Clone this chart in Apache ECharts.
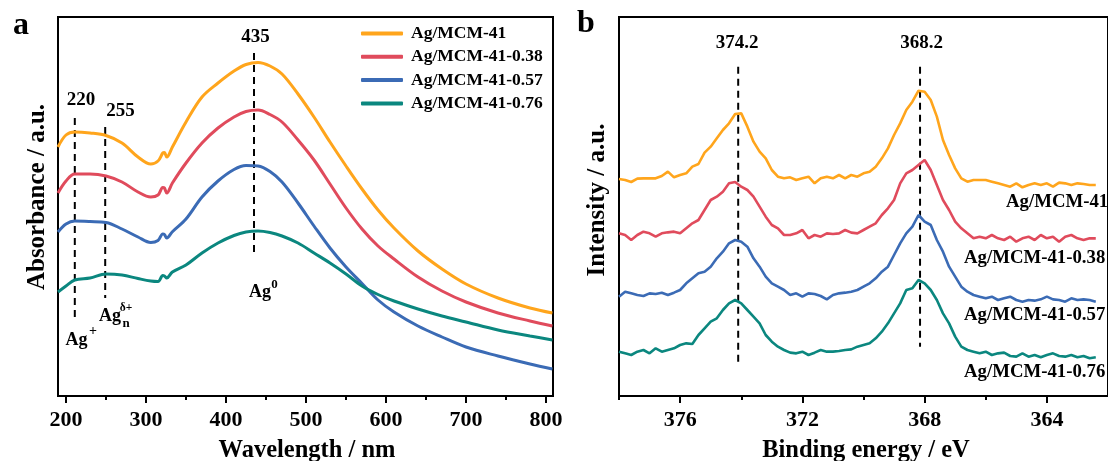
<!DOCTYPE html>
<html><head><meta charset="utf-8">
<script src="https://cdn.jsdelivr.net/npm/echarts@6/dist/echarts.min.js"></script>
<style>html,body{margin:0;padding:0;background:#fff}#c{width:1108px;height:461px}</style>
</head><body><div id="c"></div>
<script>
// ---------- data ----------
const seriesNames = ['Ag/MCM-41', 'Ag/MCM-41-0.38', 'Ag/MCM-41-0.57', 'Ag/MCM-41-0.76'];

// panel a : UV-vis
const wavelength = [190,200,211,230,250,270,290,306,315,321,323,326,333,350,370,390,410,425,440,455,470,490,510,530,550,570,590,610,640,670,700,740,780,808];
const uvAg      = [2.49,2.61,2.64,2.63,2.605,2.53,2.39,2.32,2.35,2.43,2.435,2.39,2.49,2.74,2.99,3.13,3.25,3.315,3.335,3.30,3.22,3.02,2.79,2.54,2.30,2.07,1.86,1.68,1.45,1.27,1.12,0.98,0.88,0.83];
const uvAg038   = [2.03,2.15,2.22,2.22,2.20,2.14,2.04,1.99,2.01,2.085,2.08,2.03,2.13,2.33,2.53,2.68,2.79,2.845,2.86,2.815,2.74,2.56,2.36,2.12,1.88,1.67,1.50,1.37,1.19,1.05,0.94,0.83,0.75,0.70];
const uvAg057   = [1.64,1.72,1.75,1.745,1.735,1.67,1.59,1.535,1.555,1.62,1.615,1.58,1.643,1.77,1.99,2.15,2.265,2.305,2.30,2.245,2.14,1.93,1.70,1.48,1.29,1.125,0.96,0.84,0.70,0.59,0.49,0.40,0.32,0.27];
const uvAg076   = [1.04,1.10,1.16,1.18,1.22,1.21,1.175,1.15,1.145,1.205,1.20,1.18,1.24,1.31,1.43,1.53,1.605,1.64,1.65,1.635,1.60,1.53,1.43,1.33,1.22,1.10,1.015,0.95,0.87,0.80,0.74,0.66,0.60,0.56];
const wlTicks = [200,300,400,500,600,700,800];
const wlMinorTicks = [250,350,450,550,650,750];
const uvPeaks = [211, 249, 435];
const uvPeakTop = [2.78, 2.69, 3.43];
const uvPeakBottom = [0.74, 0.98, 1.39];

// panel b : XPS Ag 3d
const energy = [378.0,377.8,377.6,377.4,377.2,377.0,376.8,376.6,376.4,376.2,376.0,375.8,375.6,375.4,375.2,375.0,374.8,374.6,374.4,374.2,
374.0,373.8,373.6,373.4,373.2,373.0,372.8,372.6,372.4,372.2,372.0,371.8,371.6,371.4,371.2,371.0,370.8,370.6,370.4,370.2,
370.0,369.8,369.6,369.4,369.2,369.0,368.8,368.6,368.4,368.2,368.0,367.8,367.6,367.4,367.2,367.0,366.8,366.6,366.4,366.2,
366.0,365.8,365.6,365.4,365.2,365.0,364.8,364.6,364.4,364.2,364.0,363.8,363.6,363.4,363.2,363.0,362.8,362.6,362.4];
const xpsAg = [651,648,642,652,653,653,653,660,673,656,663,668,688,696,730,748,773,798,818,846,
848,808,763,733,713,678,658,653,656,648,653,658,638,653,658,653,663,653,663,658,
668,673,688,713,743,783,818,858,883,916,913,888,838,768,723,683,653,643,648,648,
648,643,638,633,628,638,626,633,638,633,638,628,640,638,633,638,636,633,633];
const xpsAg038 = [488,483,468,483,493,488,478,488,491,493,488,503,518,528,558,588,598,613,638,642,
628,618,598,568,538,513,503,483,483,488,498,473,483,478,488,486,488,498,490,488,
498,508,518,543,563,588,638,668,678,693,708,678,633,588,558,523,503,488,473,478,
473,483,473,468,478,463,473,478,468,483,473,478,463,478,483,473,468,473,473];
const xpsAg057 = [298,313,308,303,300,308,306,310,303,310,318,338,353,368,373,388,413,433,458,468,
463,448,413,388,358,338,328,318,303,308,298,308,306,300,290,303,308,310,313,318,
328,338,353,373,388,423,458,488,508,543,523,513,468,433,388,358,328,313,303,298,
293,298,288,293,298,288,283,288,286,290,298,290,288,283,293,288,290,288,283];
const xpsAg076 = [133,128,123,133,138,128,143,133,138,143,153,158,156,183,203,223,233,258,278,288,
278,258,238,218,183,163,148,138,130,128,133,123,130,138,133,133,135,138,140,148,
153,158,173,193,218,248,278,318,323,348,338,318,288,248,218,178,148,138,133,128,
133,123,128,130,120,118,128,118,123,116,123,128,120,118,123,116,120,113,116];
const beTicks = [376,372,368,364];
const beMinorTicks = [378,374,370,366];
const xpsPeaks = [374.1, 368.15];
const xpsPeakTop = [988, 988];
const xpsPeakBottom = [93, 148];

// ---------- styling ----------
const colors = ['#FFA51C', '#E04B5C', '#3B6BB5', '#0B877F'];
const FONT = "'Liberation Serif','Times New Roman',serif";

const uvData = [uvAg, uvAg038, uvAg057, uvAg076];
const xpsData = [xpsAg, xpsAg038, xpsAg057, xpsAg076];
const zip = (xs, ys) => xs.map((x, i) => [x, ys[i]]);

const series = [];
uvData.forEach((ys, i) => series.push({
  name: seriesNames[i], type: 'line', xAxisIndex: 0, yAxisIndex: 0,
  data: zip(wavelength, ys), smooth: 0.35, symbol: 'none',
  lineStyle: { color: colors[i], width: 3 }, itemStyle: { color: colors[i] }, z: 3
}));
xpsData.forEach((ys, i) => series.push({
  name: seriesNames[i], type: 'line', xAxisIndex: 2, yAxisIndex: 1,
  data: zip(energy, ys), symbol: 'none',
  lineStyle: { color: colors[i], width: 2.6 }, itemStyle: { color: colors[i] }, z: 3
}));
uvPeaks.forEach((x, i) => series.push({
  name: 'uvpeak' + i, type: 'line', xAxisIndex: 0, yAxisIndex: 0, symbol: 'none',
  data: [[x, uvPeakTop[i]], [x, uvPeakBottom[i]]],
  lineStyle: { color: '#000', width: 2, type: [7, 5] }, z: 2
}));
xpsPeaks.forEach((x, i) => series.push({
  name: 'xpspeak' + i, type: 'line', xAxisIndex: 2, yAxisIndex: 1, symbol: 'none',
  data: [[x, xpsPeakTop[i]], [x, xpsPeakBottom[i]]],
  lineStyle: { color: '#000', width: 2, type: [7, 5] }, z: 2
}));

const axisBlack = { color: '#000', width: 2 };
const labelStyle = { color: '#000', fontFamily: FONT, fontWeight: 'bold', fontSize: 22, margin: 13 };

function mainX(grid, min, max, ticks, inverse) {
  return { gridIndex: grid, type: 'value', position: 'bottom', min, max, inverse: !!inverse,
    axisLine: { show: true, lineStyle: axisBlack },
    axisTick: { show: true, inside: false, length: 7, lineStyle: axisBlack, customValues: ticks },
    axisLabel: Object.assign({ customValues: ticks }, labelStyle),
    splitLine: { show: false } };
}
function minorX(grid, min, max, ticks, inverse) {
  return { gridIndex: grid, type: 'value', position: 'bottom', min, max, inverse: !!inverse,
    axisLine: { show: false },
    axisTick: { show: true, inside: false, length: 4, lineStyle: axisBlack, customValues: ticks },
    axisLabel: { show: false }, splitLine: { show: false } };
}
function plainY(grid, min, max) {
  return { gridIndex: grid, type: 'value', min, max,
    axisLine: { show: true, lineStyle: axisBlack }, axisTick: { show: false },
    axisLabel: { show: false }, splitLine: { show: false } };
}

function txt(text, x, y, size, opts) {
  return Object.assign({ type: 'text', x, y, z: 10,
    style: Object.assign({ text, fill: '#000', fontFamily: FONT, fontWeight: 'bold', fontSize: size,
      align: 'center', verticalAlign: 'middle' }, (opts && opts.style) || {}) },
    opts && opts.rotation !== undefined ? { rotation: opts.rotation } : {});
}

const graphic = [
  txt('a', 21, 25.5, 32),
  txt('b', 586, 24, 32),
  txt('Absorbance / a.u.', 38, 197, 25, { rotation: Math.PI / 2 }),
  txt('Intensity / a.u.', 598, 200, 25, { rotation: Math.PI / 2 }),
  txt('Wavelength / nm', 307, 451, 24.5),
  txt('Binding energy / eV', 866, 451, 24.5),
  txt('435', 255.5, 37.5, 19),
  txt('220', 81, 100, 19),
  txt('255', 120.5, 111, 19),
  txt('374.2', 737, 43, 19),
  txt('368.2', 921.5, 43, 19),
  txt('Ag', 249, 292, 18, { style: { align: 'left' } }),
  txt('0', 274.5, 284.5, 13),
  txt('Ag', 65.4, 340.6, 18, { style: { align: 'left' } }),
  txt('+', 93, 331.5, 14),
  txt('Ag', 99, 316.6, 18, { style: { align: 'left' } }),
  txt('δ+', 126, 308.5, 11.5),
  txt('n', 126, 324, 13),
  txt(seriesNames[0], 1006, 202.5, 18.8, { style: { align: 'left' } }),
  txt(seriesNames[1], 964, 258, 18.8, { style: { align: 'left' } }),
  txt(seriesNames[2], 964, 315, 18.8, { style: { align: 'left' } }),
  txt(seriesNames[3], 964, 372, 18.8, { style: { align: 'left' } })
];

const chart = echarts.init(document.getElementById('c'), null, { renderer: 'canvas' });
chart.setOption({
  animation: false,
  backgroundColor: '#fff',
  grid: [
    { left: 58, top: 17, width: 495, height: 379, show: true, borderColor: '#000', borderWidth: 2, containLabel: false },
    { left: 619, top: 17, width: 496, height: 379, show: true, borderColor: '#000', borderWidth: 2, containLabel: false }
  ],
  xAxis: [
    mainX(0, 190, 808.75, wlTicks),
    minorX(0, 190, 808.75, wlMinorTicks),
    mainX(1, 362, 378, beTicks, true),
    minorX(1, 362, 378, beMinorTicks, true)
  ],
  yAxis: [plainY(0, 0, 3.79), plainY(1, 0, 1137)],
  legend: {
    data: seriesNames, orient: 'vertical', left: 361, top: 24.5, padding: 0,
    itemWidth: 42, itemHeight: 4, itemGap: 5.3, icon: 'roundRect', selectedMode: false,
    textStyle: { color: '#000', fontFamily: FONT, fontWeight: 'bold', fontSize: 17.5, lineHeight: 17, padding: [0, 0, 0, 3] }
  },
  series,
  graphic
});
</script>
</body></html>
